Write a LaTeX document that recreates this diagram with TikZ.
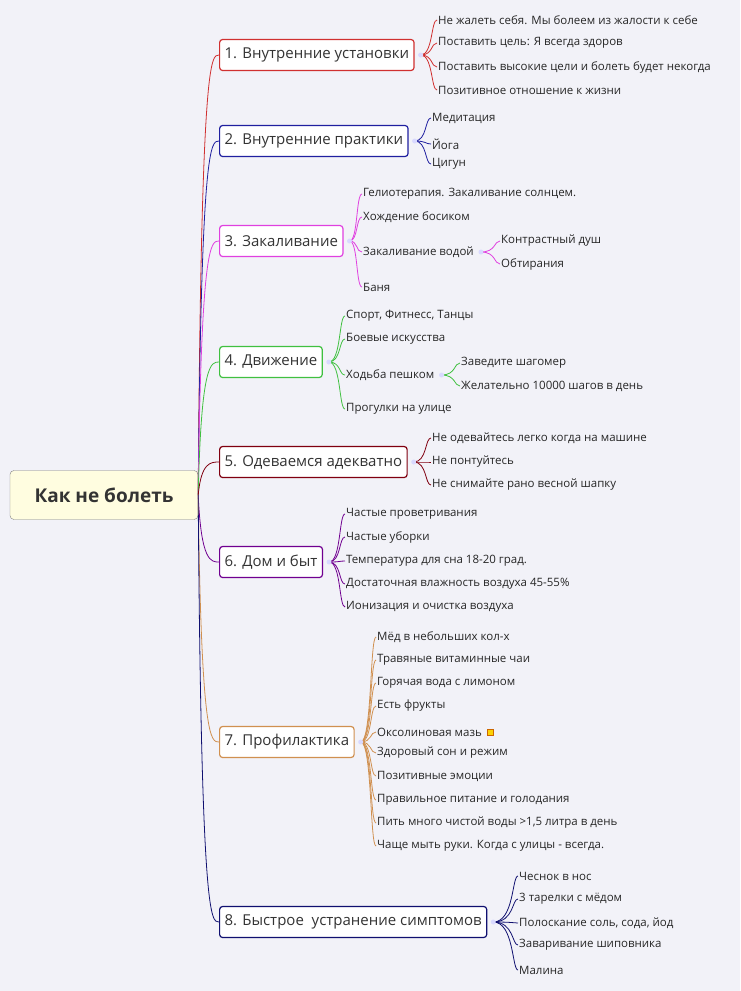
\documentclass[tikz,border=0pt]{standalone}
\usepackage{fontspec}
\setmainfont{Open Sans}
\usetikzlibrary{positioning}
\definecolor{bgcol}{HTML}{F2F2F8}
\definecolor{c1}{HTML}{D03030}
\definecolor{c2}{HTML}{2020A0}
\definecolor{c3}{HTML}{E040E0}
\definecolor{c4}{HTML}{40C040}
\definecolor{c5}{HTML}{800010}
\definecolor{c6}{HTML}{700090}
\definecolor{c7}{HTML}{D09050}
\definecolor{c8}{HTML}{101070}
\tikzset{
  topic/.style={rectangle, draw=#1, line width=1.2pt, fill=white, rounded corners=3pt,
    minimum height=31pt, inner xsep=5pt, anchor=west, text=black!80,
    font=\fontsize{15}{17}\selectfont},
  leaf/.style={anchor=west, inner sep=1pt, text=black!85, font=\fontsize{11.5}{13}\selectfont},
  hub/.style={circle, fill=blue!15, inner sep=0pt, minimum size=5pt},
  link/.style={draw=#1, line width=0.8pt},
}
\begin{document}
\begin{tikzpicture}[x=1pt, y=-1pt]
\fill[bgcol] (0,0) rectangle (740,991);
\useasboundingbox (0,0) rectangle (740,991);

\node[rectangle, draw=black!50, fill=yellow!12, rounded corners=4pt, minimum width=188pt,
  minimum height=49pt, font=\bfseries\fontsize{19}{22}\selectfont, text=black!80] (root) at (104,495) {Как не болеть};

% main topics
\node[topic=c1] (t1) at (219,55) {1. Внутренние установки};
\node[topic=c2] (t2) at (219,141) {2. Внутренние практики};
\node[topic=c3] (t3) at (219,241) {3. Закаливание};
\node[topic=c4] (t4) at (219,362) {4. Движение};
\node[topic=c5] (t5) at (219,462) {5. Одеваемся адекватно};
\node[topic=c6] (t6) at (219,562) {6. Дом и быт};
\node[topic=c7] (t7) at (219,742) {7. Профилактика};
\node[topic=c8] (t8) at (219,922) {8. Быстрое\ \ устранение симптомов};

\foreach \t/\c in {t1/c1,t2/c2,t3/c3,t4/c4,t5/c5,t6/c6,t7/c7,t8/c8}
  \draw[link=\c] (root.east) .. controls ([xshift=3pt]root.east |- \t.west) and ([xshift=-8pt]\t.west) .. (\t.west);

% leaves
\foreach \n/\y/\s in {a/20/Не жалеть себя. Мы болеем из жалости к себе, b/43/Поставить цель: Я всегда здоров,
  c/67/Поставить высокие цели и болеть будет некогда, d/90/Позитивное отношение к жизни}
  \node[leaf] (l1\n) at (437,\y) {\s};
\foreach \n/\y/\s in {a/118/Медитация, b/144/Йога, c/164/Цигун}
  \node[leaf] (l2\n) at (431,\y) {\s};
\foreach \n/\y/\s in {a/194/Гелиотерапия. Закаливание солнцем., b/217/Хождение босиком, c/252/Закаливание водой, d/287/Баня}
  \node[leaf] (l3\n) at (362,\y) {\s};
\foreach \n/\y/\s in {a/241/Контрастный душ, b/264/Обтирания}
  \node[leaf] (m3\n) at (500,\y) {\s};
\foreach \n/\y/\s in {a/316/{Спорт, Фитнесс, Танцы}, b/339/Боевые искусства, c/375/Ходьба пешком, d/409/Прогулки на улице}
  \node[leaf] (l4\n) at (345,\y) {\s};
\foreach \n/\y/\s in {a/363/Заведите шагомер, b/386/Желательно 10000 шагов в день}
  \node[leaf] (m4\n) at (460,\y) {\s};
\foreach \n/\y/\s in {a/438/Не одевайтесь легко когда на машине, b/462/Не понтуйтесь, c/485/Не снимайте рано весной шапку}
  \node[leaf] (l5\n) at (431,\y) {\s};
\foreach \n/\y/\s in {a/514/Частые проветривания, b/537/Частые уборки, c/561/Температура для сна 18-20 град.,
  d/584/Достаточная влажность воздуха 45-55\%, e/607/Ионизация и очистка воздуха}
  \node[leaf] (l6\n) at (345,\y) {\s};
\foreach \n/\y/\s in {a/637/Мёд в небольших кол-х, b/660/Травяные витаминные чаи, c/683/Горячая вода с лимоном,
  d/706/Есть фрукты, e/732/Оксолиновая мазь, f/753/Здоровый сон и режим, g/776/Позитивные эмоции,
  h/800/Правильное питание и голодания, i/823/{Пить много чистой воды >1,5 литра в день}, j/846/Чаще мыть руки. Когда с улицы - всегда.}
  \node[leaf] (l7\n) at (376,\y) {\s};
\foreach \n/\y/\s in {a/876/Чеснок в нос, b/899/3 тарелки с мёдом, c/923/{Полоскание соль, сода, йод}, d/945/Заваривание шиповника, e/970/Малина}
  \node[leaf] (l8\n) at (518,\y) {\s};

\node[rectangle, fill=yellow!70!orange, draw=orange!80!black, line width=0.3pt, minimum size=6pt, inner sep=0pt,
  right=4pt of l7e] (note) {};

% brackets
\foreach \p/\c/\ls in {t1/c1/{l1a,l1b,l1c,l1d}, t2/c2/{l2a,l2b,l2c}, t3/c3/{l3a,l3b,l3c,l3d},
  l3c/c3/{m3a,m3b}, t4/c4/{l4a,l4b,l4c,l4d}, l4c/c4/{m4a,m4b}, t5/c5/{l5a,l5b,l5c},
  t6/c6/{l6a,l6b,l6c,l6d,l6e}, t7/c7/{l7a,l7b,l7c,l7d,l7e,l7f,l7g,l7h,l7i,l7j}, t8/c8/{l8a,l8b,l8c,l8d,l8e}} {
  \foreach \l in \ls
    \draw[link=\c] ([xshift=6pt]\p.east) .. controls ([xshift=-4pt]\l.west |- \p.east) and ([xshift=-6pt]\l.west) .. (\l.west);
  \node[hub] at ([xshift=6pt]\p.east) {};
}
\end{tikzpicture}
\end{document}
